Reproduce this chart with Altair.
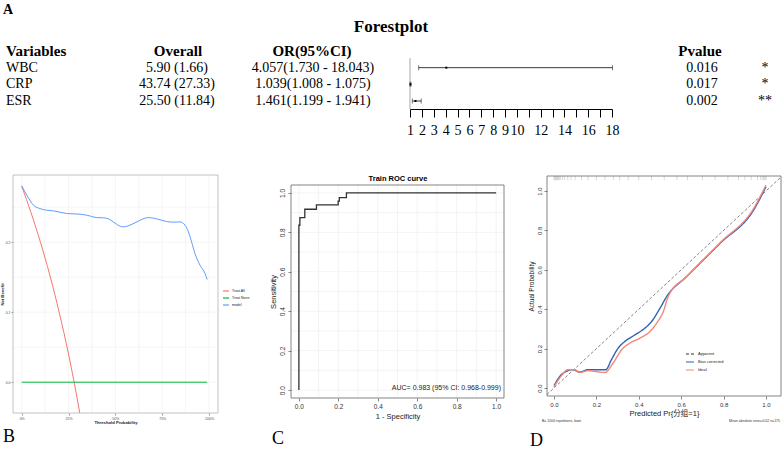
import altair as alt
import pandas as pd

SERIF = "Liberation Serif"
SANS = "Liberation Sans"
SANS_CJK = "Liberation Sans, Noto Sans CJK SC"

# ---------------- A: forest plot ----------------
variables = ["WBC", "CRP", "ESR"]
overall = ["5.90 (1.66)", "43.74 (27.33)", "25.50 (11.84)"]
or_text = ["4.057(1.730 - 18.043)", "1.039(1.008 - 1.075)", "1.461(1.199 - 1.941)"]
or_est = [4.057, 1.039, 1.461]
or_low = [1.730, 1.008, 1.199]
or_high = [18.043, 1.075, 1.941]
p_values = ["0.016", "0.017", "0.002"]
p_stars = ["*", "*", "**"]
headers = ["Variables", "Overall", "OR(95%CI)", "Pvalue"]
or_ticks = list(range(1, 19))

# ---------------- B: decision curve ----------------
dca_series = ["Treat All", "Treat None", "model"]
treat_all_pt = [0.0, 0.05, 0.10, 0.15, 0.20, 0.25, 0.28, 0.31]
treat_all_nb = [0.280, 0.242, 0.200, 0.153, 0.100, 0.040, 0.000, -0.044]
treat_none_pt = [0.0, 0.99]
treat_none_nb = [0.0, 0.0]
model_pt = [0.0, 0.03, 0.062, 0.098, 0.133, 0.169, 0.24, 0.311, 0.347, 0.40, 0.436,
            0.463, 0.489, 0.525, 0.543, 0.578, 0.632, 0.676, 0.721, 0.774, 0.81,
            0.845, 0.872, 0.89, 0.907, 0.925, 0.952, 0.979, 0.99]
model_nb = [0.2805, 0.266, 0.253, 0.248, 0.2457, 0.2448, 0.241, 0.240, 0.2386, 0.2352,
            0.2348, 0.2333, 0.229, 0.2229, 0.2219, 0.2243, 0.2314, 0.2352, 0.2333,
            0.2295, 0.2286, 0.229, 0.2243, 0.2148, 0.2005, 0.1838, 0.1671, 0.1552, 0.1467]

# ---------------- C: ROC curve ----------------
roc_fpr = [0.0, 0.0, 0.005, 0.005, 0.030, 0.030, 0.089, 0.089, 0.199, 0.199,
           0.205, 0.205, 0.241, 0.241, 1.0]
roc_tpr = [0.0, 0.836, 0.836, 0.875, 0.875, 0.917, 0.917, 0.939, 0.939, 0.958,
           0.958, 0.976, 0.976, 1.0, 1.0]
roc_auc_label = "AUC= 0.983 (95% CI: 0.968-0.999)"

# ---------------- D: calibration curve ----------------
cal_series = ["Apparent", "Bias corrected", "Ideal"]
cal_pred_bias = [0.0, 0.035, 0.058, 0.09, 0.121, 0.161, 0.2, 0.244, 0.271, 0.303,
                 0.334, 0.382, 0.429, 0.461, 0.5, 0.532, 0.626, 0.784, 0.942, 1.0]
cal_obs_bias = [0.012, 0.068, 0.084, 0.093, 0.081, 0.093, 0.093, 0.093, 0.144, 0.203,
                0.236, 0.270, 0.304, 0.338, 0.405, 0.465, 0.566, 0.735, 0.904, 1.022]
cal_pred_ideal = [0.0, 0.035, 0.066, 0.098, 0.121, 0.161, 0.2, 0.24, 0.279, 0.319,
                  0.358, 0.405, 0.453, 0.484, 0.516, 0.539, 0.626, 0.784, 0.942, 1.0]
cal_obs_ideal = [0.005, 0.0625, 0.093, 0.093, 0.079, 0.088, 0.083, 0.079, 0.127, 0.194,
                 0.228, 0.253, 0.287, 0.329, 0.389, 0.465, 0.566, 0.738, 0.912, 1.03]
cal_rug = [0.0, 0.004, 0.008, 0.012, 0.016, 0.02, 0.025, 0.03, 0.04, 0.05, 0.065, 0.08,
           0.1, 0.13, 0.16, 0.2, 0.24, 0.28, 0.31, 0.35, 0.4, 0.46, 0.52, 0.58, 0.63,
           0.7, 0.76, 0.82, 0.87, 0.9, 0.93, 0.96, 0.975, 0.985, 0.99, 0.995, 1.0]


def label(txt, x, y, **style):
    """A free-standing piece of text placed in the canvas."""
    return alt.Chart(pd.DataFrame({"t": [txt]})).mark_text(**style).encode(
        x=alt.value(x), y=alt.value(y), text="t:N")


def frame(xs, ys, xdom, ydom, xa, ya, color, width):
    """Panel border drawn along the scale domain."""
    return alt.Chart(pd.DataFrame({"k": [0]})).mark_rect(
        fill="transparent", stroke=color, strokeWidth=width).encode(
        x=alt.X(datum=xdom[0], scale=xs, axis=xa), x2=alt.X2(datum=xdom[1]),
        y=alt.Y(datum=ydom[0], scale=ys, axis=ya), y2=alt.Y2(datum=ydom[1]))


def grid(xs, ys, xdom, ydom, xa, ya, xv, yv, color, width):
    gx = alt.Chart(pd.DataFrame({"v": xv})).mark_rule(
        color=color, strokeWidth=width).encode(
        x=alt.X("v:Q", scale=xs, axis=xa),
        y=alt.Y(datum=ydom[0], scale=ys, axis=ya), y2=alt.Y2(datum=ydom[1]))
    gy = alt.Chart(pd.DataFrame({"v": yv})).mark_rule(
        color=color, strokeWidth=width).encode(
        y=alt.Y("v:Q", scale=ys, axis=ya),
        x=alt.X(datum=xdom[0], scale=xs, axis=xa), x2=alt.X2(datum=xdom[1]))
    return [gx, gy]


# ================= Panel A =================
table = pd.DataFrame({
    "row": variables, "overall": overall, "or_text": or_text, "p": p_values,
    "star": p_stars, "est": or_est, "low": or_low, "high": or_high,
})
row_y = alt.Scale(type="point", domain=["header"] + variables, range=[51, 101], padding=0)
forest_x = alt.Scale(domain=[1, 18], range=[410, 612], nice=False, zero=False)
Y_ROW = alt.Y("row:N", scale=row_y, axis=None)


def table_col(field, x, align):
    return alt.Chart(table).mark_text(
        font=SERIF, fontSize=14, align=align, baseline="middle", color="black").encode(
        x=alt.value(x), y=Y_ROW, text=f"{field}:N")


head_df = pd.DataFrame({"row": ["header"] * len(headers), "label": headers})
head_pos = {"Variables": (6, "left"), "Overall": (178, "center"),
            "OR(95%CI)": (312, "center"), "Pvalue": (700, "center")}
head_layers = [
    alt.Chart(head_df).transform_filter(alt.datum.label == h).mark_text(
        font=SERIF, fontSize=15, fontWeight="bold", align=a, baseline="middle",
        color="black").encode(x=alt.value(x), y=Y_ROW, text="label:N")
    for h, (x, a) in head_pos.items()
]

forest_axis = alt.Axis(
    orient="bottom", offset=109 - 450, values=or_ticks, title=None, grid=False,
    labelExpr="datum.value > 10 && datum.value % 2 == 1 ? '' : datum.label",
    tickSize=8, tickColor="black", tickWidth=1, domainColor="black", domainWidth=1,
    labelFont=SERIF, labelFontSize=14, labelColor="black", labelPadding=6,
    labelFlush=False, labelOverlap=False)

ref_line = alt.Chart(pd.DataFrame({"k": [0]})).mark_rule(
    color="#c4c4c4", strokeWidth=1.5).encode(
    x=alt.X(datum=1, scale=forest_x, axis=forest_axis), y=alt.value(58), y2=alt.value(109))
ci = alt.Chart(table).mark_rule(color="#3a3a3a", strokeWidth=1).encode(
    x=alt.X("low:Q", scale=forest_x, axis=forest_axis), x2="high:Q", y=Y_ROW)
cap_lo = alt.Chart(table).mark_tick(color="#3a3a3a", thickness=1, size=5,
                                     orient="vertical").encode(
    x=alt.X("low:Q", scale=forest_x, axis=forest_axis), y=Y_ROW)
cap_hi = alt.Chart(table).mark_tick(color="#3a3a3a", thickness=1, size=5,
                                     orient="vertical").encode(
    x=alt.X("high:Q", scale=forest_x, axis=forest_axis), y=Y_ROW)
est_pt = alt.Chart(table).mark_point(shape="square", filled=True, size=4,
                                     color="black", opacity=1).encode(
    x=alt.X("est:Q", scale=forest_x, axis=forest_axis), y=Y_ROW)

panel_a = alt.layer(
    label("A", 3, 14, font=SERIF, fontSize=14, fontWeight="bold", align="left",
          baseline="alphabetic", color="black"),
    label("Forestplot", 391, 27, font=SERIF, fontSize=17, fontWeight="bold",
          align="center", baseline="middle", color="black"),
    *head_layers,
    table_col("row", 6, "left"),
    table_col("overall", 177, "center"),
    table_col("or_text", 313, "center"),
    table_col("p", 702, "center"),
    table_col("star", 765, "center"),
    ref_line, ci, cap_lo, cap_hi, est_pt,
)

# ================= Panel B =================
b_xdom = [-0.0465, 1.048]
b_ydom = [-0.044, 0.296]
b_x = alt.Scale(domain=b_xdom, range=[13, 218], nice=False, zero=False)
b_y = alt.Scale(domain=b_ydom, range=[413, 175], nice=False, zero=False)

dca = pd.concat([
    pd.DataFrame({"series": "Treat All", "pt": treat_all_pt, "nb": treat_all_nb}),
    pd.DataFrame({"series": "Treat None", "pt": treat_none_pt, "nb": treat_none_nb}),
    pd.DataFrame({"series": "model", "pt": model_pt, "nb": model_nb}),
], ignore_index=True)

b_axis_style = dict(
    grid=False, domain=False, tickSize=2, tickColor="#333333", tickWidth=0.5,
    labelFont=SANS, labelFontSize=3.5, labelColor="#4d4d4d", labelPadding=1,
    labelFlush=False, labelOverlap=False, titleFont=SANS, titleFontSize=4.2,
    titleFontWeight="bold", titleColor="#222222", titlePadding=1)
b_xaxis = alt.Axis(orient="bottom", offset=413 - 450, values=[0, 0.25, 0.5, 0.75, 1],
                   format=".0%", title="Threshold Probability", **b_axis_style)
b_yaxis = alt.Axis(orient="left", offset=-13, values=[0, 0.1, 0.2], format=".1f",
                   title="Net Benefit", **b_axis_style)

dca_lines = alt.Chart(dca).mark_line(strokeWidth=1, interpolate="monotone").encode(
    x=alt.X("pt:Q", scale=b_x, axis=b_xaxis),
    y=alt.Y("nb:Q", scale=b_y, axis=b_yaxis),
    color=alt.Color("series:N", scale=alt.Scale(
        domain=dca_series, range=["#F8766D", "#00BA38", "#619CFF"]),
        legend=alt.Legend(orient="none", legendX=222, legendY=287, title=None,
                          symbolType="stroke", symbolSize=36, symbolStrokeWidth=1.2,
                          labelFont=SANS, labelFontSize=3.5, labelColor="#222222",
                          rowPadding=0, labelOffset=2, padding=0)),
    detail="series:N",
)

panel_b = alt.layer(
    *grid(b_x, b_y, b_xdom, b_ydom, b_xaxis, b_yaxis,
          [0, .125, .25, .375, .5, .625, .75, .875, 1],
          [0, .05, .1, .15, .2, .25], "#ebebeb", 0.5),
    dca_lines,
    frame(b_x, b_y, b_xdom, b_ydom, b_xaxis, b_yaxis, "#b3b3b3", 0.8),
    label("B", 3, 442, font=SERIF, fontSize=18, align="left", baseline="alphabetic",
          color="black"),
)

# ================= Panel C =================
c_dom = [-0.04, 1.04]
c_x = alt.Scale(domain=c_dom, range=[291, 504], nice=False, zero=False)
c_y = alt.Scale(domain=c_dom, range=[398, 185], nice=False, zero=False)
roc = pd.DataFrame({"fpr": roc_fpr, "tpr": roc_tpr, "i": range(len(roc_fpr))})

c_axis_style = dict(
    grid=False, domain=False, tickSize=3, tickColor="#333333", tickWidth=0.6,
    labelFont=SANS, labelFontSize=6.5, labelColor="#333333", labelPadding=2.5,
    labelFlush=False, labelOverlap=False, titleFont=SANS, titleFontSize=7.5,
    titleFontWeight="normal", titleColor="#222222", titlePadding=2,
    values=[0, 0.2, 0.4, 0.6, 0.8, 1.0], format=".1f")
c_xaxis = alt.Axis(orient="bottom", offset=398 - 450, title="1 - Specificity",
                   **c_axis_style)
c_yaxis = alt.Axis(orient="left", offset=-291, title="Sensitivity", labelAngle=270,
                   labelAlign="center", labelBaseline="bottom", **c_axis_style)

roc_line = alt.Chart(roc).mark_line(color="#333333", strokeWidth=1.3).encode(
    x=alt.X("fpr:Q", scale=c_x, axis=c_xaxis),
    y=alt.Y("tpr:Q", scale=c_y, axis=c_yaxis),
    order="i:Q",
)

c_grid_vals = [round(0.1 * k, 1) for k in range(11)]
panel_c = alt.layer(
    *grid(c_x, c_y, c_dom, c_dom, c_xaxis, c_yaxis, c_grid_vals, c_grid_vals,
          "#ececec", 0.6),
    roc_line,
    frame(c_x, c_y, c_dom, c_dom, c_xaxis, c_yaxis, "#666666", 0.8),
    label("Train ROC curve", 398, 179, font=SANS, fontSize=7.5, fontWeight="bold",
          align="center", baseline="middle", color="black"),
    label(roc_auc_label, 501, 388, font=SANS, fontSize=7, align="right",
          baseline="middle", color="#222222"),
    label("C", 272, 444, font=SERIF, fontSize=18, align="left", baseline="alphabetic",
          color="black"),
)

# ================= Panel D =================
d_xdom = [-0.033, 1.0708]
d_ydom = [-0.0406, 1.0761]
d_x = alt.Scale(domain=d_xdom, range=[547, 781], nice=False, zero=False)
d_y = alt.Scale(domain=d_ydom, range=[396, 176], nice=False, zero=False)

diag = pd.DataFrame({"series": "Apparent", "pred": [d_xdom[0], d_xdom[1]],
                     "obs": [d_xdom[0], d_xdom[1]]})
curves = pd.concat([
    pd.DataFrame({"series": "Bias corrected", "pred": cal_pred_bias, "obs": cal_obs_bias}),
    pd.DataFrame({"series": "Ideal", "pred": cal_pred_ideal, "obs": cal_obs_ideal}),
], ignore_index=True)

d_axis_style = dict(
    grid=False, domain=False, tickSize=3, tickColor="#333333", tickWidth=0.6,
    labelFont=SANS, labelFontSize=6, labelColor="#333333", labelPadding=2,
    labelFlush=False, labelOverlap=False, titleFont=SANS_CJK,
    titleFontWeight="normal", titleColor="#222222", titlePadding=2,
    values=[0, 0.2, 0.4, 0.6, 0.8, 1.0], format=".1f")
d_xaxis = alt.Axis(orient="bottom", offset=396 - 450, title="Predicted Pr{分组=1}",
                   titleFontSize=7.5, **d_axis_style)
d_yaxis = alt.Axis(orient="left", offset=-547, title="Actual Probability",
                   titleFontSize=6.5, labelAngle=270, labelAlign="center",
                   labelBaseline="bottom", **d_axis_style)

d_legend = alt.Legend(orient="none", legendX=685, legendY=349, title=None,
                      symbolType="stroke", symbolSize=64, symbolStrokeWidth=1.2,
                      labelFont=SANS, labelFontSize=4, labelColor="#222222",
                      rowPadding=-2, labelOffset=3, padding=0)
d_color = alt.Color("series:N", scale=alt.Scale(
    domain=cal_series, range=["#333333", "#2f64b4", "#f4877a"]), legend=d_legend)
d_dash = alt.StrokeDash("series:N", scale=alt.Scale(
    domain=cal_series, range=[[3, 2], [1, 0], [1, 0]]), legend=d_legend)

diag_line = alt.Chart(diag).mark_line(strokeWidth=0.6).encode(
    x=alt.X("pred:Q", scale=d_x, axis=d_xaxis),
    y=alt.Y("obs:Q", scale=d_y, axis=d_yaxis),
    color=d_color, strokeDash=d_dash)
cal_lines = alt.Chart(curves).mark_line(strokeWidth=1.4, interpolate="monotone").encode(
    x=alt.X("pred:Q", scale=d_x, axis=d_xaxis),
    y=alt.Y("obs:Q", scale=d_y, axis=d_yaxis),
    color=d_color, strokeDash=d_dash, detail="series:N")
rug = alt.Chart(pd.DataFrame({"v": cal_rug})).mark_rule(
    color="#b0b0b0", strokeWidth=0.5).encode(
    x=alt.X("v:Q", scale=d_x, axis=d_xaxis),
    y=alt.Y(datum=d_ydom[1], scale=d_y, axis=d_yaxis), y2=alt.Y2(datum=1.055))

panel_d = alt.layer(
    rug,
    diag_line,
    cal_lines,
    frame(d_x, d_y, d_xdom, d_ydom, d_xaxis, d_yaxis, "#666666", 0.8),
    label("B= 1000 repetitions, boot", 542, 421, font=SANS, fontSize=3.5,
          align="left", baseline="middle", color="#333333"),
    label("Mean absolute error=0.02 n=175", 780, 421, font=SANS, fontSize=3.5,
          align="right", baseline="middle", color="#333333"),
    label("D", 530, 446, font=SERIF, fontSize=18, align="left", baseline="alphabetic",
          color="black"),
)

chart = alt.layer(panel_a, panel_b, panel_c, panel_d).resolve_scale(
    x="independent", y="independent", color="independent", strokeDash="independent"
).properties(
    width=782, height=450, padding=0,
    autosize=alt.AutoSizeParams(type="none"),
    background="white",
).configure_view(stroke="transparent")

chart.save("out.html", embed_options={"renderer": "svg", "actions": False})
